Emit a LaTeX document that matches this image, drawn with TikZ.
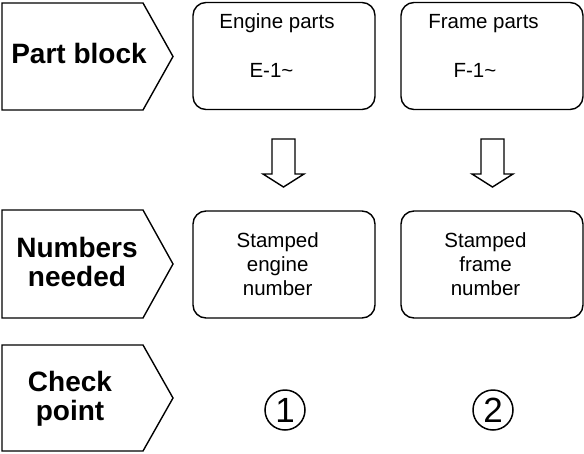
\documentclass[tikz,border=0pt]{standalone}
\usepackage{fontspec}
\setmainfont{Liberation Sans}
\begin{document}
\begin{tikzpicture}[x=1pt,y=-1pt,line width=1.4pt,line join=miter,
  head/.style={font=\fontsize{28}{29}\selectfont\bfseries,align=center,inner sep=0pt,anchor=base},
  txt/.style={font=\fontsize{20.5}{24}\selectfont,align=center,inner sep=0pt,anchor=base},
  rbox/.style={draw,rounded corners=13pt,minimum width=182pt,minimum height=107pt,inner sep=0pt},
  pent/.style={draw},
  harrow/.style={draw},
  cnum/.style={draw,circle,minimum size=40pt,inner sep=0pt,line width=1.5pt,font=\fontsize{35}{35}\selectfont}]
\useasboundingbox (0,0) rectangle (584,453);
% pentagons (row labels)
\draw[pent] (2,3) -- (143,3) -- (173,56.5) -- (143,110) -- (2,110) -- cycle;
\draw[pent] (2,210) -- (143,210) -- (173,264) -- (143,318) -- (2,318) -- cycle;
\draw[pent] (2,345) -- (143,345) -- (173,398) -- (143,451) -- (2,451) -- cycle;
\node[head] (lab1) at (79,63) {Part block};
\node[head] (lab2) at (77,286) {Numbers\\needed};
\node[head] (lab3) at (70,420) {Check\\point};
% boxes
\node[rbox] (eparts) at (284,56) {};
\node[rbox] (fparts) at (492,56) {};
\node[rbox] (enum) at (284,264.5) {};
\node[rbox] (fnum) at (492,264.5) {};
\node[txt] (et) at (277,28) {Engine parts};
\node[txt] (ec) at (271.5,77) {E-1\textasciitilde};
\node[txt] (ft) at (483.5,28) {Frame parts};
\node[txt] (fc) at (475,77) {F-1\textasciitilde};
\node[txt] (en) at (277.7,295) {Stamped\\engine\\number};
\node[txt] (fn) at (485.5,295) {Stamped\\frame\\number};
% hollow arrows
\coordinate (a1) at (283.5,139);
\coordinate (a2) at (492.5,139);
\foreach \c in {a1,a2}{
  \draw[harrow] ([xshift=-11.5pt]\c) -- ([xshift=11.5pt]\c) -- ([xshift=11.5pt,yshift=-35pt]\c)
    -- ([xshift=20.5pt,yshift=-35pt]\c) -- ([yshift=-48pt]\c) -- ([xshift=-20.5pt,yshift=-35pt]\c)
    -- ([xshift=-11.5pt,yshift=-35pt]\c) -- cycle;
}
% check points
\node[cnum] (c1) at (285,410) {1};
\node[cnum] (c2) at (493,410) {2};
\end{tikzpicture}
\end{document}
